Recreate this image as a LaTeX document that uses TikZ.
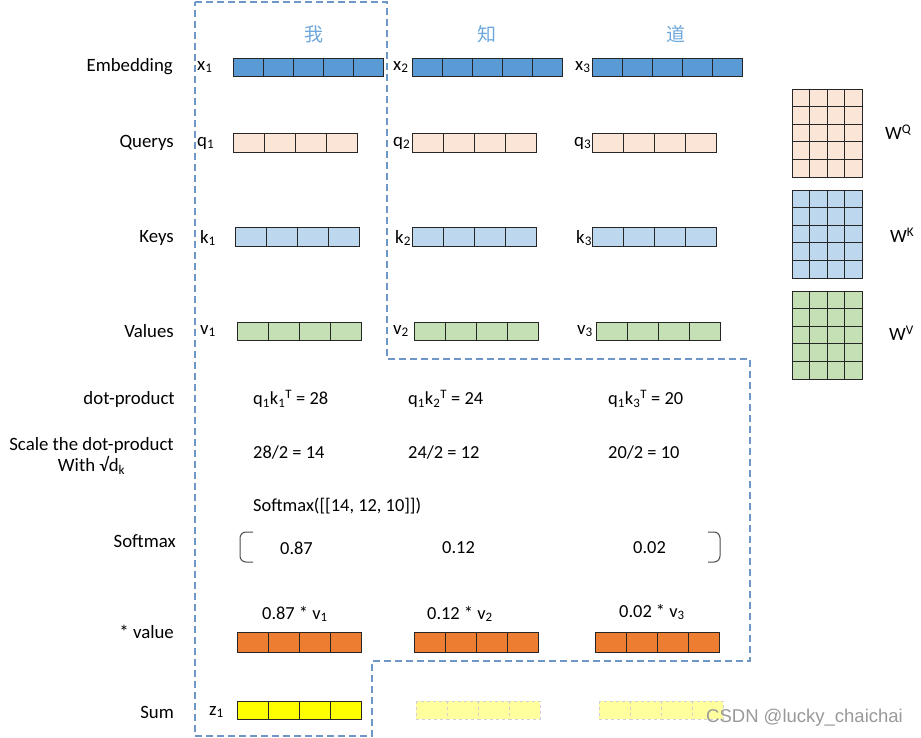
\documentclass[tikz,border=0pt]{standalone}
\usepackage{fontspec}
\setmainfont{Carlito}
\newfontfamily\cjk{Noto Sans CJK SC}
\newfontfamily\markfont{Liberation Sans}

\definecolor{embblue}{HTML}{5B9BD5}
\definecolor{qpeach}{HTML}{FBE5D6}
\definecolor{kblue}{HTML}{BDD7EE}
\definecolor{vgreen}{HTML}{C5E0B4}
\definecolor{wvorange}{HTML}{ED7D31}
\definecolor{zyellow}{HTML}{FFFF00}
\definecolor{zfaded}{HTML}{FFFF9E}
\definecolor{wordblue}{HTML}{6FA8DC}
\definecolor{boxline}{RGB}{110,150,200}

\tikzset{
  rowlabel/.style={anchor=east,inner sep=0pt,font=\fontsize{18.8}{21.5}\selectfont},
  veclabel/.style={anchor=west,inner sep=0pt,font=\fontsize{18.8}{21}\selectfont},
  calc/.style={anchor=west,inner sep=0pt,font=\fontsize{18.4}{21}\selectfont},
  word/.style={inner sep=0pt,text=wordblue,font=\cjk\fontsize{19}{21}\selectfont},
  cell/.style={draw=black!85,line width=0.8pt},
  fadedcell/.style={draw=black!18,dashed,line width=0.8pt,fill=zfaded},
  outline/.style={draw=boxline,line width=1.2pt,dash pattern=on 7pt off 4pt},
  bracket/.style={draw=black!70,line width=1pt,rounded corners=6pt},
}

\begin{document}
\begin{tikzpicture}[x=1pt,y=-1pt]
\useasboundingbox (0,0) rectangle (921,738);

\draw[outline] (195,2) -- (387,2) -- (387,359) -- (750,359) -- (750,661)
  -- (372,661) -- (372,736) -- (195,736) -- cycle;

\node[word] (wo) at (314,34) {我};
\node[word] (zhi) at (487,34) {知};
\node[word] (dao) at (676,34) {道};

% row labels
\node[rowlabel] (embed) at (173,67) {Embedding};
\node[rowlabel] (query) at (174,143) {Querys};
\node[rowlabel] (key) at (174,238) {Keys};
\node[rowlabel] (value) at (174,331) {Values};
\node[rowlabel] (dot) at (175,399) {dot-product};
\node[rowlabel,align=center] (scale) at (174,456) {Scale the dot-product\\With √d\textsubscript{k}};
\node[rowlabel] (soft) at (176,541) {Softmax};
\node[rowlabel] (mult) at (174,632) {* value};
\node[rowlabel] (sum) at (174,712) {Sum};

% vectors
\foreach \x in {233,412,592}
  \foreach \i in {0,...,4}
    \draw[cell,fill=embblue] (\x+\i*30,58) rectangle ++(30,18);
\foreach \x in {233,412,592}
  \foreach \i in {0,...,3}
    \draw[cell,fill=qpeach] (\x+\i*31.2,133) rectangle ++(31.2,19);
\foreach \x in {235,412,592}
  \foreach \i in {0,...,3}
    \draw[cell,fill=kblue] (\x+\i*31,227) rectangle ++(31,19);
\foreach \x in {237,414,596}
  \foreach \i in {0,...,3}
    \draw[cell,fill=vgreen] (\x+\i*31.2,322) rectangle ++(31.2,18);
\foreach \x in {237,414,595}
  \foreach \i in {0,...,3}
    \draw[cell,fill=wvorange] (\x+\i*31.2,632) rectangle ++(31.2,20);
\foreach \i in {0,...,3}
  \draw[cell,fill=zyellow] (237+\i*31.2,701) rectangle ++(31.2,18);
\foreach \x in {416,599}
  \foreach \i in {0,...,3}
    \draw[fadedcell] (\x+\i*31,701) rectangle ++(31,18);

\node[veclabel] (x1) at (197,67) {x\textsubscript{1}};
\node[veclabel] (x2) at (393,67) {x\textsubscript{2}};
\node[veclabel] (x3) at (575,67) {x\textsubscript{3}};
\node[veclabel] (q1) at (197,143) {q\textsubscript{1}};
\node[veclabel] (q2) at (393,143) {q\textsubscript{2}};
\node[veclabel] (q3) at (574,143) {q\textsubscript{3}};
\node[veclabel] (k1) at (200,238) {k\textsubscript{1}};
\node[veclabel] (k2) at (395,238) {k\textsubscript{2}};
\node[veclabel] (k3) at (576,238) {k\textsubscript{3}};
\node[veclabel] (v1) at (200,331) {v\textsubscript{1}};
\node[veclabel] (v2) at (393,331) {v\textsubscript{2}};
\node[veclabel] (v3) at (577,331) {v\textsubscript{3}};
\node[veclabel] (z1) at (209,712) {z\textsubscript{1}};

% weight matrices
\foreach \y/\c in {89/qpeach,190/kblue,291/vgreen}
  \foreach \i in {0,...,3}
    \foreach \j in {0,...,4}
      \draw[cell,fill=\c] (792+\i*17.5,\y+\j*17.6) rectangle ++(17.5,17.6);
\node[veclabel] (wq) at (885,132) {W\textsuperscript{Q}};
\node[veclabel] (wk) at (890,235) {W\textsuperscript{K}};
\node[veclabel] (wv) at (889,333) {W\textsuperscript{V}};

% scores
\node[calc] (s1) at (253,399) {q\textsubscript{1}k\textsubscript{1}\textsuperscript{T} = 28};
\node[calc] (s2) at (408,399) {q\textsubscript{1}k\textsubscript{2}\textsuperscript{T} = 24};
\node[calc] (s3) at (608,399) {q\textsubscript{1}k\textsubscript{3}\textsuperscript{T} = 20};
\node[calc] (c1) at (253,453) {28/2 = 14};
\node[calc] (c2) at (408,453) {24/2 = 12};
\node[calc] (c3) at (608,453) {20/2 = 10};
\node[calc] (sm) at (253,506) {Softmax([[14, 12, 10]])};
\node[calc] (p1) at (280,548) {0.87};
\node[calc] (p2) at (442,548) {0.12};
\node[calc] (p3) at (633,548) {0.02};
\draw[bracket] (253,532) -- (240,532) -- (240,562) -- (253,562);
\draw[bracket] (708,532) -- (720,532) -- (720,562) -- (708,562);

\node[calc] (m1) at (262,614) {0.87 * v\textsubscript{1}};
\node[calc] (m2) at (427,614) {0.12 * v\textsubscript{2}};
\node[calc] (m3) at (619,612) {0.02 * v\textsubscript{3}};

\node[anchor=west,inner sep=0pt,text=black!40,font=\markfont\fontsize{18.5}{21}\selectfont] (mark) at (706,718) {CSDN @lucky\_chaichai};
\end{tikzpicture}
\end{document}
